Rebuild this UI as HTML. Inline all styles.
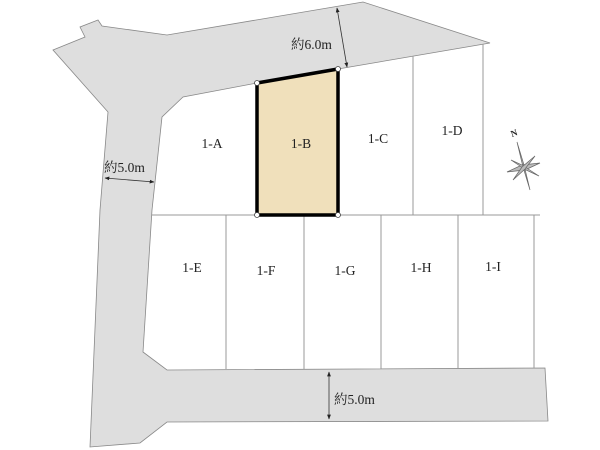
<!DOCTYPE html>
<html><head><meta charset="utf-8"><style>
html,body{margin:0;padding:0;background:#fff;width:600px;height:450px;overflow:hidden}
text{font-family:"Liberation Serif","Noto Serif CJK SC",serif;fill:#222}
</style></head><body>
<svg width="600" height="450" viewBox="0 0 600 450" xmlns="http://www.w3.org/2000/svg">
<defs>
<marker id="a" viewBox="0 0 10 10" refX="9" refY="5" markerWidth="6" markerHeight="6" orient="auto-start-reverse"><path d="M0,1 L10,5 L0,9z" fill="#222"/></marker>
</defs>
<polygon points="53,50 85,37 80,27 98,20 102,26 167,35 363,2 490,43 338,69 257,83 183,97 162,117 152,210 143,352 167,370 545,368 548,421 167,422 140,443 90,447 100,210 108,112" fill="#dedede" stroke="#888" stroke-width="0.8"/>
<g stroke="#999" stroke-width="1" fill="none">
<line x1="152" y1="215" x2="540" y2="215"/>
<line x1="413" y1="56" x2="413" y2="215"/>
<line x1="483" y1="44" x2="483" y2="215"/>
<line x1="226" y1="215" x2="226" y2="369"/>
<line x1="304" y1="215" x2="304" y2="369"/>
<line x1="381" y1="215" x2="381" y2="369"/>
<line x1="458" y1="215" x2="458" y2="369"/>
<line x1="534" y1="215" x2="534" y2="368"/>
</g>
<polygon points="257,83 338,69 338,215 257,215" fill="#f0e0bb" stroke="#000" stroke-width="3.5"/>
<g fill="#fff" stroke="#444" stroke-width="0.8">
<circle cx="257" cy="83" r="2.5"/><circle cx="338" cy="69" r="2.5"/><circle cx="257" cy="215" r="2.5"/><circle cx="338" cy="215" r="2.5"/>
</g>
<g font-size="13.5" text-anchor="middle">
<text x="212" y="148">1-A</text><text x="301" y="148">1-B</text><text x="378" y="143">1-C</text><text x="452" y="135">1-D</text>
<text x="192" y="272">1-E</text><text x="266" y="275">1-F</text><text x="345" y="275">1-G</text><text x="421" y="272">1-H</text><text x="493" y="271">1-I</text>
</g>
<g stroke="#333" stroke-width="0.8">
<line x1="337" y1="8" x2="347" y2="67" marker-start="url(#a)" marker-end="url(#a)"/>
<line x1="105" y1="178" x2="154" y2="182" marker-start="url(#a)" marker-end="url(#a)"/>
<line x1="329" y1="372" x2="329" y2="419" marker-start="url(#a)" marker-end="url(#a)"/>
</g>
<g font-size="13.5">
<text x="291" y="49">約6.0m</text>
<text x="104" y="172">約5.0m</text>
<text x="334" y="404">約5.0m</text>
</g>
<g stroke="#666" stroke-width="0.7" fill="#bbb">
<polygon points="517,142 524,165 530,190 523,167"/>
<polygon points="507,172 522,165 540,163 525,170"/>
<polygon points="511,160 522,165 539,176 526,170"/>
<polygon points="513,180 522,167 535,156 525,169"/>
</g>
<text x="512" y="137" font-size="9" font-weight="bold" transform="rotate(-20 512 137)">N</text>
</svg>
</body></html>
